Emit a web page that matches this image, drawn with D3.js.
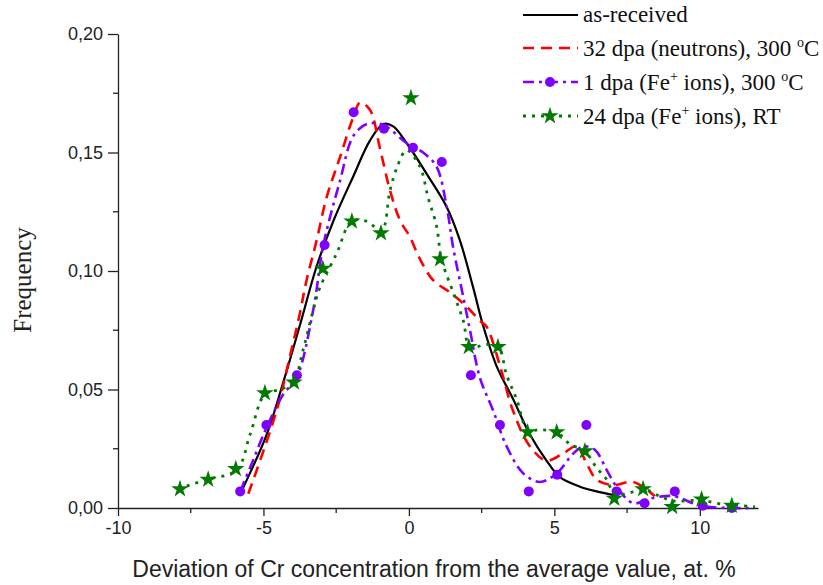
<!DOCTYPE html>
<html>
<head>
<meta charset="utf-8">
<script src="https://cdn.jsdelivr.net/npm/d3@7"></script>
<style>
  body { margin: 0; background: #fff; }
  .axis text { font-family: Arial, "Liberation Sans", sans-serif; font-size: 18px; fill: #222; }
  .axis path, .axis line { stroke: #222; stroke-width: 1.3; }
</style>
</head>
<body>
<div id="chart"></div>
<script>
// Data
const xTicks = [-10, -5, 0, 5, 10]
const xMinor = [-7.5, -2.5, 2.5, 7.5]
const yTicks = [0, 0.05, 0.10, 0.15, 0.20]
const yMinor = [0.025, 0.075, 0.125, 0.175]

// as-received (smooth line only)
const asReceivedX = [-5.72, -4.89, -4.32, -3.75, -3.17, -2.6, -1.91, -1.34, -0.88, -0.54, -0.08, 0.61, 1.3, 1.75, 2.21, 2.55, 3.01, 3.58, 4.16, 4.73, 5.19, 5.88, 6.45, 7.02]
const asReceivedY = [0.008, 0.031, 0.053, 0.077, 0.102, 0.121, 0.140, 0.155, 0.162, 0.161, 0.154, 0.141, 0.127, 0.113, 0.093, 0.077, 0.060, 0.046, 0.031, 0.020, 0.013, 0.009, 0.007, 0.0055]

// 32 dpa (neutrons), 300 C (dashed line only)
const neutronX = [-5.52, -4.55, -4.09, -3.75, -3.52, -3.17, -2.83, -2.37, -1.91, -1.68, -1.34, -1.0, -0.65, -0.31, 0.03, 0.38, 0.84, 1.41, 1.98, 2.44, 2.67, 3.13, 3.58, 4.16, 4.73, 5.3, 5.76, 6.1, 6.45, 7.02, 7.71, 8.45]
const neutronY = [0.006, 0.041, 0.064, 0.082, 0.096, 0.113, 0.131, 0.148, 0.165, 0.171, 0.168, 0.152, 0.134, 0.1215, 0.1145, 0.105, 0.096, 0.091, 0.085, 0.079, 0.0765, 0.060, 0.041, 0.026, 0.020, 0.023, 0.026, 0.019, 0.012, 0.0097, 0.011, 0.005]

// 1 dpa (Fe+ ions), 300 C : measured points + fitted line
const fe1PointX = [-5.8, -4.9, -3.85, -2.9, -1.9, -0.86, 0.14, 1.13, 2.13, 3.13, 4.12, 5.1, 6.1, 7.14, 8.1, 9.14, 10.1, 11.1]
const fe1PointY = [0.007, 0.035, 0.056, 0.111, 0.167, 0.160, 0.152, 0.146, 0.056, 0.035, 0.007, 0.014, 0.035, 0.007, 0.002, 0.007, 0.001, 0.0]
const fe1LineX = [-5.8, -5.46, -4.89, -4.32, -3.86, -3.29, -2.94, -2.37, -1.91, -1.45, -0.88, -0.08, 0.49, 0.95, 1.3, 1.52, 1.87, 2.1, 2.44, 2.9, 3.36, 3.93, 4.5, 5.08, 5.65, 6.0, 6.4, 6.8, 7.14, 7.71, 8.3, 9.1, 10.0, 11.0, 11.8]
const fe1LineY = [0.007, 0.017, 0.034, 0.048, 0.055, 0.0835, 0.111, 0.138, 0.157, 0.162, 0.1616, 0.154, 0.150, 0.144, 0.127, 0.110, 0.089, 0.075, 0.055, 0.041, 0.026, 0.0146, 0.011, 0.0146, 0.023, 0.026, 0.0245, 0.016, 0.009, 0.002, 0.004, 0.005, 0.001, 0.0, 0.0]

// 24 dpa (Fe+ ions), RT : measured points + fitted line
const fe24PointX = [-7.87, -6.9, -5.95, -4.95, -3.95, -2.96, -1.96, -0.96, 0.07, 1.07, 2.06, 3.06, 4.08, 5.08, 6.05, 7.06, 8.05, 9.05, 10.06, 11.1]
const fe24PointY = [0.008, 0.012, 0.0165, 0.0485, 0.053, 0.101, 0.121, 0.116, 0.173, 0.105, 0.068, 0.068, 0.032, 0.032, 0.024, 0.004, 0.008, 0.0005, 0.0037, 0.001]
const fe24LineX = [-7.93, -6.96, -5.92, -5.46, -4.95, -4.43, -3.98, -3.63, -3.29, -3.06, -2.48, -1.97, -1.45, -0.94, -0.65, -0.37, -0.08, 0.38, 0.66, 0.95, 1.12, 1.52, 1.87, 2.1, 2.67, 3.07, 3.36, 3.7, 4.08, 4.5, 5.08, 5.53, 6.05, 6.45, 6.8, 7.06, 7.48, 8.05, 8.62, 9.08, 9.54, 10.06, 10.57, 11.1, 11.9]
const fe24LineY = [0.008, 0.012, 0.016, 0.031, 0.048, 0.050, 0.053, 0.067, 0.0835, 0.093, 0.1075, 0.121, 0.121, 0.117, 0.134, 0.145, 0.151, 0.144, 0.131, 0.119, 0.105, 0.091, 0.079, 0.068, 0.069, 0.068, 0.056, 0.046, 0.033, 0.033, 0.032, 0.027, 0.024, 0.017, 0.012, 0.006, 0.006, 0.008, 0.005, 0.003, 0.003, 0.0034, 0.002, 0.0013, 0.0005]

const zip = (xs, ys) => xs.map((x, i) => ({ x: x, y: ys[i] }))

// Dimensions
let dimensions = {
    width: 823,
    height: 585,
    margin: { top: 34, bottom: 77, left: 118, right: 65 }
}
dimensions.ctrWidth = dimensions.width - dimensions.margin.left - dimensions.margin.right
dimensions.ctrHeight = dimensions.height - dimensions.margin.top - dimensions.margin.bottom

const svg = d3.select('#chart')
    .append('svg')
    .attr('width', dimensions.width)
    .attr('height', dimensions.height)
const ctr = svg.append('g')
    .attr('transform', `translate(${dimensions.margin.left},${dimensions.margin.top})`)

// Scales
const xScale = d3.scaleLinear().domain([-10, 12]).range([0, dimensions.ctrWidth])
const yScale = d3.scaleLinear().domain([0, 0.20]).range([dimensions.ctrHeight, 0])

const fmtY = d => d3.format('.2f')(d).replace('.', ',')

// Axes
const xAxisGroup = ctr.append('g')
    .attr('class', 'axis')
    .attr('transform', `translate(0,${dimensions.ctrHeight})`)
    .call(d3.axisBottom(xScale).tickValues(xTicks).tickSize(8).tickSizeOuter(0).tickPadding(5).tickFormat(d => d))
xAxisGroup.selectAll('.minor').data(xMinor).join('line')
    .attr('x1', d => xScale(d)).attr('x2', d => xScale(d))
    .attr('y1', 0).attr('y2', 5)

const yAxisGroup = ctr.append('g')
    .attr('class', 'axis')
    .call(d3.axisLeft(yScale).tickValues(yTicks).tickSize(10).tickSizeOuter(0).tickPadding(5).tickFormat(fmtY))
yAxisGroup.selectAll('.minor').data(yMinor).join('line')
    .attr('x1', 0).attr('x2', -5)
    .attr('y1', d => yScale(d)).attr('y2', d => yScale(d))

// axis titles
svg.append('text')
    .attr('x', 434)
    .attr('y', 577)
    .attr('text-anchor', 'middle')
    .style('font-family', 'Arial, "Liberation Sans", sans-serif')
    .style('font-size', '23px')
    .attr('fill', '#222')
    .text('Deviation of Cr concentration from the average value, at. %')

svg.append('text')
    .attr('transform', 'translate(31,280) rotate(-90)')
    .attr('text-anchor', 'middle')
    .style('font-family', '"Liberation Serif", "Times New Roman", serif')
    .style('font-size', '25px')
    .attr('fill', '#222')
    .text('Frequency')

// Lines
const line = d3.line()
    .x(d => xScale(d.x))
    .y(d => yScale(d.y))
    .curve(d3.curveCatmullRom.alpha(0.5))

const series = [
    { name: 'as-received', data: zip(asReceivedX, asReceivedY), color: '#000000', dash: null, width: 2.2 },
    { name: 'neutron', data: zip(neutronX, neutronY), color: '#ff0000', dash: '11,7', width: 2.6 },
    { name: 'fe1', data: zip(fe1LineX, fe1LineY), color: '#7f00ff', dash: '11,5,3,5', width: 2.6 },
    { name: 'fe24', data: zip(fe24LineX, fe24LineY), color: '#007a00', dash: '3,6', width: 2.8 }
]

ctr.selectAll('path.series')
    .data(series)
    .join('path')
    .attr('class', 'series')
    .attr('d', d => line(d.data))
    .attr('fill', 'none')
    .attr('stroke', d => d.color)
    .attr('stroke-width', d => d.width)
    .attr('stroke-dasharray', d => d.dash)

// markers
ctr.selectAll('circle.fe1')
    .data(zip(fe1PointX, fe1PointY))
    .join('circle')
    .attr('class', 'fe1')
    .attr('cx', d => xScale(d.x))
    .attr('cy', d => yScale(d.y))
    .attr('r', 5)
    .attr('fill', '#7f00ff')

const star = d3.symbol().type(d3.symbolStar).size(95)
ctr.selectAll('path.fe24')
    .data(zip(fe24PointX, fe24PointY))
    .join('path')
    .attr('class', 'fe24')
    .attr('transform', d => `translate(${xScale(d.x)},${yScale(d.y)})`)
    .attr('d', star)
    .attr('fill', '#007a00')

// Legend
const legend = svg.append('g')
const legendRows = [
    { y: 15, color: '#000000', dash: null, width: 2.2, marker: null },
    { y: 48, color: '#ff0000', dash: '11,7', width: 2.6, marker: null },
    { y: 82, color: '#7f00ff', dash: '11,5,3,5', width: 2.6, marker: 'circle' },
    { y: 116, color: '#007a00', dash: '3,6', width: 2.8, marker: 'star' }
]
legendRows.forEach(r => {
    legend.append('line')
        .attr('x1', 523).attr('x2', 578)
        .attr('y1', r.y).attr('y2', r.y)
        .attr('stroke', r.color)
        .attr('stroke-width', r.width)
        .attr('stroke-dasharray', r.dash)
    if (r.marker === 'circle') {
        legend.append('circle').attr('cx', 550).attr('cy', r.y).attr('r', 5).attr('fill', r.color)
    } else if (r.marker === 'star') {
        legend.append('path').attr('transform', `translate(550,${r.y})`).attr('d', star).attr('fill', r.color)
    }
})

const legendText = legend.append('g')
    .style('font-family', '"Liberation Serif", "Times New Roman", serif')
    .style('font-size', '23px')
    .attr('fill', '#111')

legendText.append('text').attr('x', 583).attr('y', 22).text('as-received')

legendText.append('text').attr('x', 583).attr('y', 56)
    .html('32 dpa (neutrons), 300 <tspan dy="-9" font-size="14">o</tspan><tspan dy="9">C</tspan>')

legendText.append('text').attr('x', 583).attr('y', 90)
    .html('1 dpa (Fe<tspan dy="-9" font-size="14">+</tspan><tspan dy="9"> ions), 300 </tspan><tspan dy="-9" font-size="14">o</tspan><tspan dy="9">C</tspan>')

legendText.append('text').attr('x', 583).attr('y', 124)
    .html('24 dpa (Fe<tspan dy="-9" font-size="14">+</tspan><tspan dy="9"> ions), RT</tspan>')
</script>
</body>
</html>
